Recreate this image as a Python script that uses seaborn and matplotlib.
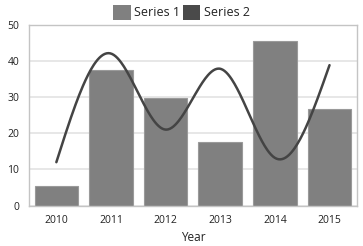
import matplotlib
matplotlib.use("Agg")
import matplotlib.pyplot as plt
from matplotlib.patches import Patch
import numpy as np
import pandas as pd
import seaborn as sns

years = ["2010", "2011", "2012", "2013", "2014", "2015"]
series1 = [5.5, 37.6, 29.6, 17.7, 45.6, 26.6]
series2 = [12.0, 42.0, 21.0, 37.8, 13.2, 38.8]
y_ticks = [0, 10, 20, 30, 40, 50]


def natural_spline(x, y, n=300):
    # smooth curve through the points (natural cubic spline)
    x = np.asarray(x, float)
    y = np.asarray(y, float)
    k = len(x)
    h = np.diff(x)
    A = np.zeros((k, k))
    b = np.zeros(k)
    A[0, 0] = A[-1, -1] = 1
    for i in range(1, k - 1):
        A[i, i - 1] = h[i - 1]
        A[i, i] = 2 * (h[i - 1] + h[i])
        A[i, i + 1] = h[i]
        b[i] = 3 * ((y[i + 1] - y[i]) / h[i] - (y[i] - y[i - 1]) / h[i - 1])
    c = np.linalg.solve(A, b)
    xs = np.linspace(x[0], x[-1], n)
    ys = np.empty_like(xs)
    for j, t in enumerate(xs):
        i = min(np.searchsorted(x, t, side="right") - 1, k - 2)
        d = t - x[i]
        bi = (y[i + 1] - y[i]) / h[i] - h[i] * (2 * c[i] + c[i + 1]) / 3
        di = (c[i + 1] - c[i]) / (3 * h[i])
        ys[j] = y[i] + bi * d + c[i] * d ** 2 + di * d ** 3
    return xs, ys


sns.set_style("white")
plt.rcParams["font.family"] = ["Open Sans", "DejaVu Sans"]

df = pd.DataFrame({"Year": years, "Series 1": series1})

fig = plt.figure(figsize=(3.63, 2.46), dpi=100)
ax = fig.add_axes([0.080, 0.164, 0.903, 0.736])

sns.barplot(data=df, x="Year", y="Series 1", order=years, color="#808080",
            saturation=1, width=0.8, edgecolor="#9a9a9a", linewidth=0.8,
            ax=ax, zorder=2)

xs, ys = natural_spline(np.arange(len(years)), series2)
sns.lineplot(x=xs, y=ys, color="#444444", linewidth=1.8, ax=ax, zorder=3)

ax.set_xlim(-0.5, len(years) - 0.5)
ax.set_ylim(0, 50)
ax.set_yticks(y_ticks)
ax.grid(axis="y", color="#e3e3e3", linewidth=1.2, zorder=0)
ax.set_axisbelow(True)
for s in ax.spines.values():
    s.set_color("#c4c4c4")
    s.set_linewidth(1)
ax.tick_params(axis="both", length=4, width=1, color="#b0b0b0",
               labelsize=7.5, labelcolor="#222222", pad=3)
ax.set_ylabel("")
ax.set_xlabel("Year", fontsize=8.5, color="#222222", labelpad=3)

handles = [Patch(facecolor="#808080", edgecolor="none", label="Series 1"),
           Patch(facecolor="#4a4a4a", edgecolor="none", label="Series 2")]
fig.legend(handles=handles, loc="upper center", bbox_to_anchor=(0.5, 1.025),
           ncol=2, frameon=False, fontsize=9, handlelength=1.4,
           handleheight=1.4, handletextpad=0.3, columnspacing=0.2,
           labelcolor="#222222")

fig.savefig("out.png", dpi=100)
